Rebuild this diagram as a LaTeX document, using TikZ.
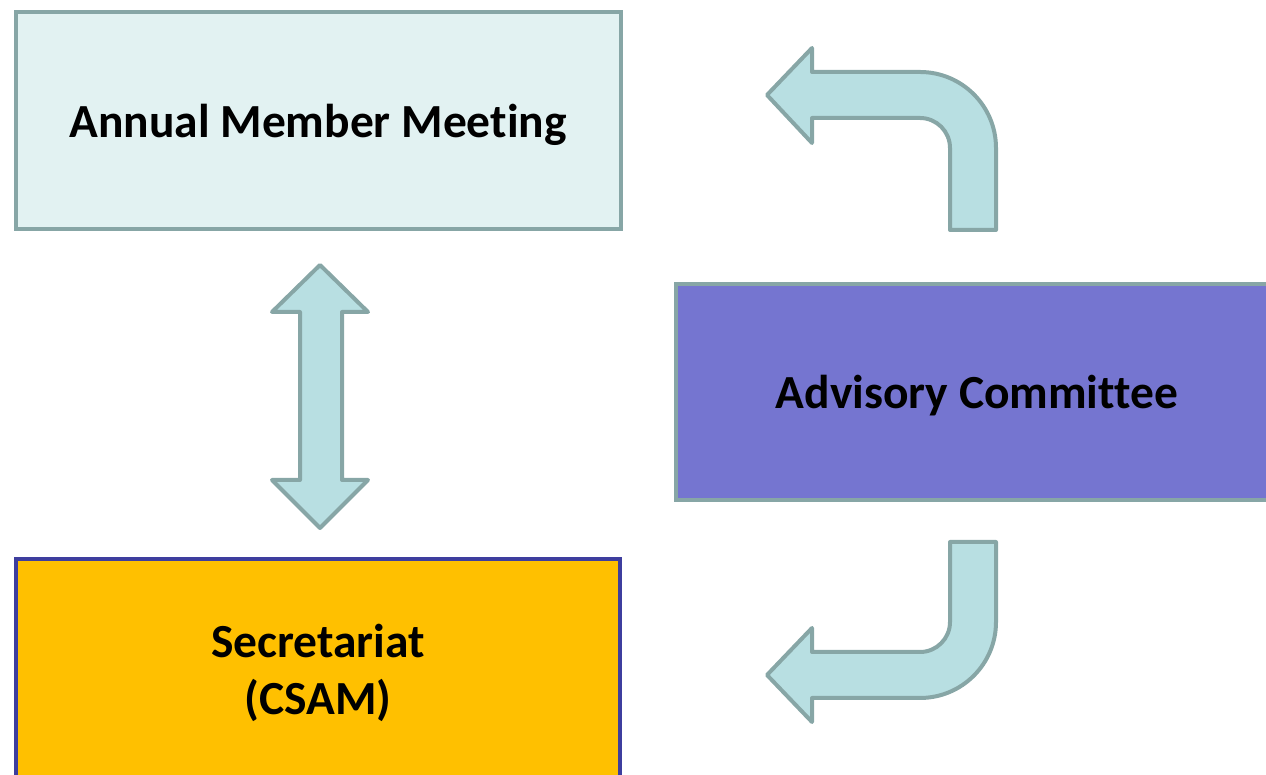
\documentclass[tikz,border=0pt]{standalone}
\usepackage{fontspec}
\setmainfont[Ligatures=NoCommon]{Carlito}
\definecolor{boxline}{RGB}{135,166,166}
\definecolor{paleteal}{RGB}{226,242,242}
\definecolor{arrowfill}{RGB}{184,223,226}
\definecolor{violet}{RGB}{117,117,208}
\definecolor{amber}{RGB}{255,192,0}
\definecolor{navyline}{RGB}{62,62,158}
\begin{document}
\begin{tikzpicture}[x=1pt,y=1pt,
    box/.style={rectangle, draw=boxline, line width=4pt, align=center, text depth=0pt,
        font=\fontsize{47.5}{57}\selectfont\bfseries},
    blockarrow/.style={draw=boxline, fill=arrowfill, line width=4pt, line join=round}]
    \useasboundingbox (0,0) rectangle (1266,775);
    \clip (0,0) rectangle (1266,775);
    \node [box, fill=paleteal, minimum width=605pt, minimum height=217.5pt] (meeting) at (318,654.25) {Annual Member Meeting};
    \node [box, fill=violet, minimum width=602pt, minimum height=216pt] (advisory) at (977,383) {Advisory Committee};
    \node [box, fill=amber, draw=navyline, minimum width=604.5pt, minimum height=220.5pt] (secretariat) at (318,105.25) {Secretariat\\(CSAM)};
    % two way arrow
    \path[blockarrow] (320,510) -- (368,463) -- (342,463) -- (342,295) -- (368,295) -- (320,247)
        -- (272,295) -- (300,295) -- (300,463) -- (272,463) -- cycle;
    % advisory back to meeting
    \path[blockarrow] (950,545) -- (950,627) arc[start angle=0, end angle=90, radius=30]
        -- (812,657) -- (812,632) -- (767,680) -- (812,727) -- (812,703) -- (920,703)
        arc[start angle=90, end angle=0, radius=76] -- (996,545) -- cycle;
    % advisory down to secretariat
    \path[blockarrow] (950,233) -- (950,153) arc[start angle=0, end angle=-90, radius=30]
        -- (812,123) -- (812,147) -- (767,100) -- (812,53) -- (812,77) -- (920,77)
        arc[start angle=-90, end angle=0, radius=76] -- (996,233) -- cycle;
\end{tikzpicture}
\end{document}
